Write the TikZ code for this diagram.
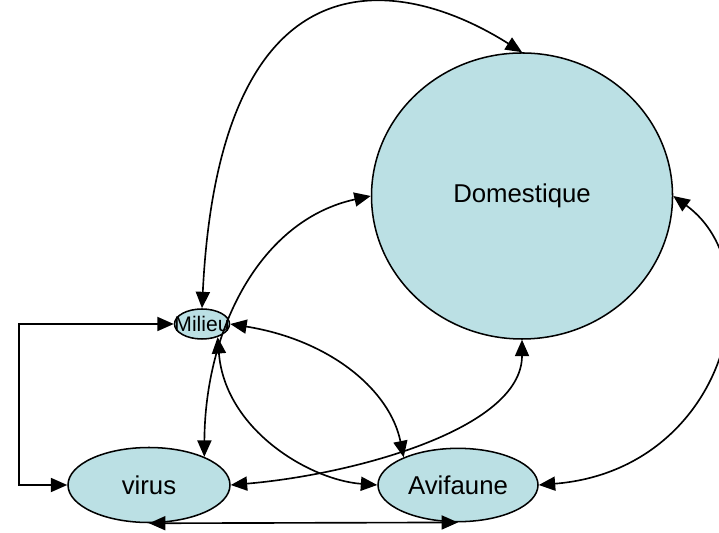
\documentclass[tikz,border=0pt]{standalone}
\usepackage{fontspec}
\setmainfont{Liberation Sans}
\usetikzlibrary{shapes,arrows.meta}
\usetikzlibrary{positioning}
\definecolor{bleu}{RGB}{187,224,228}
\tikzset{zone/.style={ellipse, draw, line width=1.3pt, fill=bleu, inner sep=0pt,
    font=\fontsize{22}{26}\selectfont},
lien/.style={line width=1.4pt, >={Triangle[length=14pt,width=12pt]}}
}

\begin{document}
\begin{tikzpicture}[x=0.03cm, y=-0.03cm, on grid]
  \useasboundingbox (0,0) rectangle (719,533);

  \node[zone, minimum width=4.86cm, minimum height=2.25cm] (virus)    at (149,485)                           {virus};
  \node[zone, minimum width=4.8cm,  minimum height=2.2cm]  (avifaune) [right=9.27cm of virus]                  {Avifaune};
  \node[zone, minimum width=1.65cm, minimum height=0.9cm,
        label={[font=\fontsize{18}{20}\selectfont]center:Milieu}] (milieu) [above right=4.83cm and 1.59cm of virus] {};
  \node[zone, minimum width=9.03cm, minimum height=8.58cm] (domestique) [above right=8.67cm and 1.92cm of avifaune] {Domestique};

  \draw[lien, <->] (milieu.north) .. controls (220,-55) and (400,-25) .. (domestique.north);
  \draw[lien, <->] (milieu.west) -- ++(-155,0) |- (virus.west);
  \draw[lien, <->] (domestique.west) .. controls (260,220) and (205,330) .. (virus.27);
  \draw[lien, <->] (milieu.east) .. controls (330,340) and (390,390) .. (avifaune.153);
  \draw[lien, <->] (milieu.-40) .. controls (225,430) and (310,480) .. (avifaune.west);
  \draw[lien, <->] (virus.east) .. controls (350,475) and (522,430) .. (domestique.south);
  \draw[lien, <->] (avifaune.east) .. controls (725,470) and (775,270) .. (domestique.east);
  \draw[lien, <->] (virus.south) -- (avifaune.south);
\end{tikzpicture}
\end{document}
